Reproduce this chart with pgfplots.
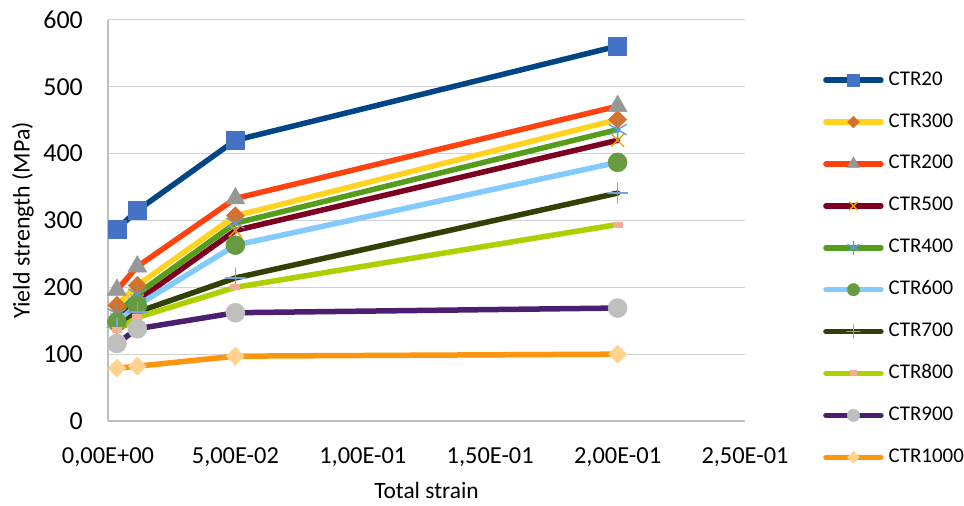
\documentclass[border=0pt]{standalone}
\usepackage{fontspec}
\setmainfont{Carlito}
\usepackage{pgfplots}
\pgfplotsset{compat=1.18}

\definecolor{l20}{HTML}{004586}
\definecolor{l300}{HTML}{FFD320}
\definecolor{l200}{HTML}{FF420E}
\definecolor{l500}{HTML}{7E0021}
\definecolor{l400}{HTML}{579D1C}
\definecolor{l600}{HTML}{83CAFF}
\definecolor{l700}{HTML}{314004}
\definecolor{l800}{HTML}{AECF00}
\definecolor{l900}{HTML}{4B1F6F}
\definecolor{l1000}{HTML}{FF950E}
\definecolor{m20}{HTML}{4472C4}
\definecolor{m300}{HTML}{D5712A}
\definecolor{m200}{HTML}{979797}
\definecolor{m500}{HTML}{E6A800}
\definecolor{m400}{HTML}{5B9BD5}
\definecolor{m600}{HTML}{689B40}
\definecolor{m700}{HTML}{7AA0DA}
\definecolor{m800}{HTML}{F4AE94}
\definecolor{m900}{HTML}{BFBFBF}
\definecolor{m1000}{HTML}{FFD38F}
\definecolor{gridc}{RGB}{210,210,210}
\definecolor{axc}{RGB}{191,191,191}

\begin{document}
\begin{tikzpicture}[x=1bp,y=1bp]
\begin{axis}[
  at={(108bp,85bp)}, anchor=south west,
  scale only axis, width=637bp, height=401bp,
  xmin=0, xmax=0.25, ymin=0, ymax=600,
  xtick={0,0.05,0.1,0.15,0.2,0.25},
  xticklabels={{0,00E+00},{5,00E-02},{1,00E-01},{1,50E-01},{2,00E-01},{2,50E-01}},
  ytick={0,100,200,300,400,500,600},
  /pgf/number format/assume math mode=true,
  axis lines=left,
  axis line style={draw=axc, line width=1.2bp, -},
  major tick length=0pt,
  ymajorgrids, grid style={draw=gridc, line width=1bp},
  yticklabel style={font=\fontsize{26}{30}\selectfont, inner sep=0pt, anchor=east, xshift=-25bp},
  xticklabel style={font=\fontsize{24.5}{28}\selectfont, inner sep=0pt, anchor=north, yshift=-26bp},
  xlabel={Total strain}, ylabel={Yield strength (MPa)},
  every axis x label/.style={at={(axis description cs:0.5,0)}, anchor=base, yshift=-78bp, inner sep=0pt, font=\fontsize{23.5}{28}\selectfont},
  every axis y label/.style={at={(axis description cs:0,0.5)}, xshift=-85bp, anchor=center, rotate=90, inner sep=0pt, font=\fontsize{24}{28}\selectfont},
  clip=false,
  line join=round,
  legend cell align=left,
  legend style={at={(1.1224,0.8753)}, anchor=north west, draw=none, fill=none,
    inner sep=0pt, row sep=21.9bp, column sep=5bp,
    font=\fontsize{21}{25}\selectfont,
    nodes={inner sep=0pt, text height=15bp, text depth=5bp}},
  legend image code/.code={\draw[mark repeat=2, mark phase=2, #1, every mark/.append style={scale=0.65}] plot coordinates {(0bp,0bp) (27.5bp,0bp) (55bp,0bp)};},
  every axis plot/.append style={line width=5.5bp, line cap=round},
]
\addplot[l20, mark=square*, mark size=9bp, mark options={fill=m20, draw=m20, line width=0.5bp}]
  coordinates {(0.0035,287) (0.0115,315) (0.05,420) (0.2,561)};
\addlegendentry{CTR20}
\addplot[l300, mark=diamond*, mark size=9bp, mark options={fill=m300, draw=m300, xscale=1.33, line width=0.5bp}]
  coordinates {(0.0035,173) (0.0115,203) (0.05,307) (0.2,451)};
\addlegendentry{CTR300}
\addplot[l200, mark=triangle*, mark size=11bp, mark options={fill=m200, draw=m200, line width=0.5bp}]
  coordinates {(0.0035,196) (0.0115,231) (0.05,333) (0.2,471)};
\addlegendentry{CTR200}
\addplot[l500, mark=x, mark size=9bp, mark options={draw=m500, line width=1.3bp}]
  coordinates {(0.0035,152) (0.0115,180) (0.05,285) (0.2,420)};
\addlegendentry{CTR500}
\addplot[l400, mark=asterisk, mark size=10bp, mark options={draw=m400, line width=1.3bp}]
  coordinates {(0.0035,160) (0.0115,190) (0.05,296) (0.2,436)};
\addlegendentry{CTR400}
\addplot[l600, mark=*, mark size=9.5bp, mark options={fill=m600, draw=m600, line width=0.5bp}]
  coordinates {(0.0035,148) (0.0115,173) (0.05,263) (0.2,387)};
\addlegendentry{CTR600}
\addplot[l700, mark=+, mark size=10bp, mark options={draw=m700, line width=1.2bp}]
  coordinates {(0.0035,140) (0.0115,163) (0.05,214) (0.2,341)};
\addlegendentry{CTR700}
\addplot[l800, mark=-, mark size=5bp, mark options={draw=m800, line width=6bp, line cap=butt}]
  coordinates {(0.0035,136) (0.0115,155) (0.05,200) (0.2,294)};
\addlegendentry{CTR800}
\addplot[l900, mark=*, mark size=9.5bp, mark options={fill=m900, draw=m900, line width=0.5bp}]
  coordinates {(0.0035,116) (0.0115,138) (0.05,162) (0.2,169)};
\addlegendentry{CTR900}
\addplot[l1000, mark=diamond*, mark size=9bp, mark options={fill=m1000, draw=m1000, xscale=1.33, line width=0.5bp}]
  coordinates {(0.0035,79) (0.0115,82) (0.05,97) (0.2,100)};
\addlegendentry{CTR1000}
\end{axis}
\pgfresetboundingbox
\useasboundingbox (0,0) rectangle (964,506);
\end{tikzpicture}
\end{document}
